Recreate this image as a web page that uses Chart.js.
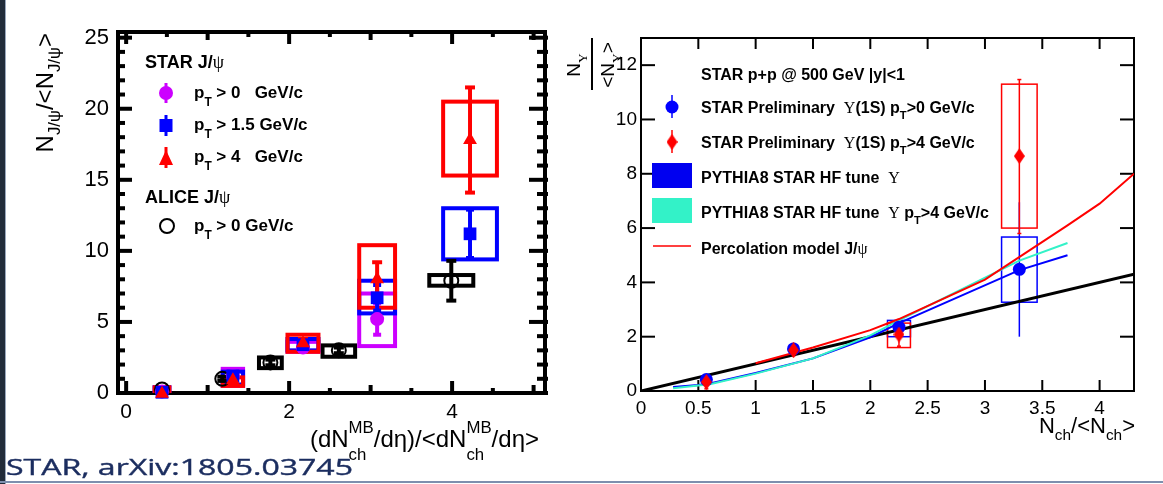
<!DOCTYPE html>
<html>
<head>
<meta charset="utf-8">
<script src="https://cdn.jsdelivr.net/npm/chart.js@4.4.1/dist/chart.umd.min.js"></script>
<style>
  body { margin: 0; background: #fff; }
  #page { position: relative; width: 1163px; height: 484px; overflow: hidden; background: #fff; }
  #cvLeft { position: absolute; left: 0; top: 0; }
  #cvRight { position: absolute; left: 560px; top: 0; }
  #edge { position: absolute; left: 0; top: 0; width: 5px; height: 484px; background: #222c3a; }
  #edge2 { position: absolute; left: 5px; top: 0; width: 1px; height: 484px; background: #9aa8bd; }
  #foot { position: absolute; left: 0; top: 481px; width: 1163px; height: 2px; background: #7d8fae; }
  #cite { position: absolute; left: 6px; top: 451px; font-family: "Open Sans"; font-size: 22px;
          color: #1b2d5f; white-space: nowrap; transform-origin: 0 0; -webkit-text-stroke: 0.4px #1b2d5f; }
</style>
</head>
<body>
<div id="page">
  <canvas id="cvLeft" width="560" height="484"></canvas>
  <canvas id="cvRight" width="603" height="484"></canvas>
  <div id="edge"></div><div id="edge2"></div><div id="foot"></div>
  <div id="cite">STAR, arXiv:1805.03745</div>
</div>
<script>
// ---------- left panel: J/psi yield vs multiplicity ----------
const leftXLabels = [0, 2, 4];
const leftYLabels = [0, 5, 10, 15, 20, 25];

const starX         = [0.44, 1.31, 2.17, 3.08, 4.22];
const starBoxW      = [0.09, 0.125, 0.19, 0.22, 0.33];
const starPt0       = [0.10, 1.20, 3.20, 5.20, null];
const starPt0Err    = [0.10, 0.25, 0.25, 1.10, null];
const starPt0SysLo  = [-0.3, 0.5, 2.9, 3.3, null];
const starPt0SysHi  = [0.4, 1.7, 3.6, 7.0, null];
const starPt15      = [0.05, 1.20, 3.40, 6.70, 11.2];
const starPt15Err   = [0.10, 0.25, 0.25, 0.90, 1.70];
const starPt15SysLo = [-0.3, 0.6, 3.0, 5.6, 9.4];
const starPt15SysHi = [0.4, 1.5, 3.8, 7.9, 13.0];
const starPt4       = [-0.05, 0.90, 3.50, 8.00, 17.8];
const starPt4Err    = [0.10, 0.30, 0.30, 1.20, 3.70];
const starPt4SysLo  = [-0.3, 0.5, 2.9, 6.0, 15.3];
const starPt4SysHi  = [0.4, 1.1, 4.1, 10.4, 20.5];

const aliceX      = [0.44, 1.18, 1.77, 2.61, 3.99];
const aliceBoxW   = [0, 0, 0.14, 0.2, 0.27];
const aliceY      = [0.25, 1.0, 2.15, 3.0, 7.9];
const aliceErr    = [0.1, 0.15, 0.2, 0.2, 1.4];
const aliceSysLo  = [null, null, 1.75, 2.55, 7.55];
const aliceSysHi  = [null, null, 2.5, 3.35, 8.3];

// ---------- right panel: Upsilon yield vs multiplicity ----------
const rightXLabels = [0, 0.5, 1, 1.5, 2, 2.5, 3, 3.5, 4];
const rightYLabels = [0, 2, 4, 6, 8, 10, 12];

const upsX        = [0.57, 1.33, 2.25, 3.30];
const upsBoxW     = [0, 0, 0.1, 0.155];
const upsPt0      = [0.42, 1.55, 2.35, 4.48];
const upsPt0Lo    = [0.30, 1.42, 2.10, 2.00];
const upsPt0Hi    = [0.55, 1.70, 2.60, 6.95];
const upsPt0SysLo = [null, null, 2.0, 3.27];
const upsPt0SysHi = [null, null, 2.6, 5.67];
const upsPt4      = [0.33, 1.50, 2.08, 8.65];
const upsPt4Lo    = [0.08, 1.30, 1.65, 5.80];
const upsPt4Hi    = [0.60, 1.75, 2.60, 11.47];
const upsPt4SysLo = [null, null, 1.6, 6.0];
const upsPt4SysHi = [null, null, 2.5, 11.3];

const diagX    = [0, 4.3];
const diagY    = [0, 4.3];
const pythiaX  = [0.28, 0.5, 0.6, 1.0, 1.5, 2.0, 2.25, 3.3, 3.72];
const pythiaY  = [0.15, 0.22, 0.28, 0.66, 1.2, 1.98, 2.5, 4.45, 5.0];
const pyth4X   = [0.28, 0.6, 1.0, 1.5, 2.0, 2.25, 3.3, 3.72];
const pyth4Y   = [0.10, 0.25, 0.64, 1.2, 2.05, 2.6, 4.8, 5.45];
const percX    = [1.0, 1.5, 2.0, 2.25, 3.0, 3.72, 4.0, 4.3];
const percY    = [1.02, 1.6, 2.24, 2.65, 4.1, 6.1, 6.9, 8.0];

const PURPLE = '#cc00ff', BLUE = '#0000ff', RED = '#ff0000', CYAN = '#33f2c8';

// ---------- helpers ----------
function pts(xs, ys) {
  return xs.map((x, i) => ({ x: x, y: ys[i] })).filter(p => p.y != null);
}
function boxes(xs, w, lo, hi, color, lw) {
  return xs.map((x, i) => lo[i] == null ? null : { x: x, w: w[i], lo: lo[i], hi: hi[i], color: color, lw: lw }).filter(Boolean);
}
function bars(xs, lo, hi, color, lw, cap) {
  return xs.map((x, i) => lo[i] == null ? null : { x: x, lo: lo[i], hi: hi[i], color: color, lw: lw, cap: cap }).filter(Boolean);
}
function sym(ys, err) { return ys.map((y, i) => y == null ? null : y - err[i]); }
function symHi(ys, err) { return ys.map((y, i) => y == null ? null : y + err[i]); }

// rich text: parts {t, sub, sup, serif, bold, stack}
function rich(ctx, parts, x, y, size, bold, draw) {
  let cx = x, lastStart = x;
  parts.forEach(p => {
    const small = p.sub || p.sup;
    const s = small ? size * 0.7 : size;
    const b = p.bold !== undefined ? p.bold : bold;
    ctx.font = (b ? 'bold ' : '') + s + 'px ' + (p.serif ? '"Liberation Serif"' : '"Liberation Sans"');
    const w = ctx.measureText(p.t).width;
    const px = p.stack ? lastStart : cx;
    const dy = p.sub ? size * (p.dy || 0.3) : p.sup ? -size * (p.dy || 0.6) : 0;
    if (draw) ctx.fillText(p.t, px, y + dy);
    if (p.stack) cx = Math.max(cx, px + w);
    else { lastStart = cx; cx += w; }
  });
  return cx - x;
}
function richRight(ctx, parts, xEnd, y, size, bold) {
  const w = rich(ctx, parts, 0, 0, size, bold, false);
  rich(ctx, parts, xEnd - w, y, size, bold, true);
}
function seg(ctx, x0, y0, x1, y1) { ctx.beginPath(); ctx.moveTo(x0, y0); ctx.lineTo(x1, y1); ctx.stroke(); }

const hepDecor = {
  id: 'hepDecor',
  beforeDatasetsDraw(chart, args, o) {
    const ctx = chart.ctx, a = chart.chartArea, xs = chart.scales.x, ys = chart.scales.y;
    ctx.save();
    ctx.strokeStyle = '#000';
    ctx.lineCap = 'butt';
    o.xTicks.forEach(t => {
      const px = xs.getPixelForValue(t[0]);
      ctx.lineWidth = o.tickW;
      seg(ctx, px, a.bottom, px, a.bottom - t[1]);
      seg(ctx, px, a.top, px, a.top + t[1]);
    });
    o.yTicks.forEach(t => {
      const py = ys.getPixelForValue(t[0]);
      ctx.lineWidth = o.tickW;
      seg(ctx, a.left, py, a.left + t[1], py);
      seg(ctx, a.right + o.rOut, py, a.right - t[2], py);
    });
    ctx.lineWidth = o.frameW;
    ctx.strokeRect(a.left, a.top, a.right - a.left, a.bottom - a.top);

    ctx.beginPath();
    ctx.rect(a.left, a.top, a.right - a.left, a.bottom - a.top);
    ctx.clip();
    o.boxes.forEach(b => {
      ctx.strokeStyle = b.color; ctx.lineWidth = b.lw;
      const x0 = xs.getPixelForValue(b.x - b.w), x1 = xs.getPixelForValue(b.x + b.w);
      const y0 = ys.getPixelForValue(b.hi), y1 = ys.getPixelForValue(b.lo);
      ctx.strokeRect(x0, y0, x1 - x0, y1 - y0);
    });
    o.bars.forEach(b => {
      ctx.strokeStyle = b.color; ctx.lineWidth = b.lw;
      const px = xs.getPixelForValue(b.x);
      const y0 = ys.getPixelForValue(b.hi), y1 = ys.getPixelForValue(b.lo);
      seg(ctx, px, y0, px, y1);
      if (b.cap) { seg(ctx, px - b.cap, y0, px + b.cap, y0); seg(ctx, px - b.cap, y1, px + b.cap, y1); }
    });
    ctx.restore();
  },
  afterDraw(chart, args, o) {
    if (o.text) { const ctx = chart.ctx; ctx.save(); ctx.fillStyle = '#000'; o.text(ctx, chart); ctx.restore(); }
  }
};
Chart.register(hepDecor);

function tickList(from, to, step, len, len2) {
  const out = [];
  for (let v = from; v <= to + 1e-9; v += step) out.push([Math.round(v * 100) / 100, len, len2]);
  return out;
}

// ---------- left chart ----------
const leftBoxes = []
  .concat(boxes(aliceX, aliceBoxW, aliceSysLo, aliceSysHi, '#000', 4))
  .concat(boxes(starX, starBoxW, starPt0SysLo, starPt0SysHi, PURPLE, 4))
  .concat(boxes(starX, starBoxW, starPt15SysLo, starPt15SysHi, BLUE, 4))
  .concat(boxes(starX, starBoxW, starPt4SysLo, starPt4SysHi, RED, 4));
const leftBars = []
  .concat(bars(aliceX, sym(aliceY, aliceErr), symHi(aliceY, aliceErr), '#000', 4, 5))
  .concat(bars(starX, sym(starPt0, starPt0Err), symHi(starPt0, starPt0Err), PURPLE, 4, 4))
  .concat(bars(starX, sym(starPt15, starPt15Err), symHi(starPt15, starPt15Err), BLUE, 4, 4))
  .concat(bars(starX, sym(starPt4, starPt4Err), symHi(starPt4, starPt4Err), RED, 4, 5));

const leftXTicks = tickList(0, 5, 0.5, 5).map(t => [t[0], t[0] % 2 === 0 ? 12 : (t[0] % 1 === 0 ? 8 : 5)]);
const leftYTicks = tickList(0, 25, 1, 7, 8).map(t => t[0] % 5 === 0 ? [t[0], 14, 16] : t);

function leftText(ctx) {
  // axis titles
  richRight(ctx, [{ t: '(dN' }, { t: 'MB', sup: true, dy: 0.6 }, { t: 'ch', sub: true, stack: true, dy: 0.55 },
    { t: '/d\u03b7)/<dN' }, { t: 'MB', sup: true, dy: 0.6 }, { t: 'ch', sub: true, stack: true, dy: 0.55 },
    { t: '/d\u03b7>' }], 539, 447, 24, false);
  ctx.save();
  const yParts = [{ t: 'N' }, { t: 'J/\u03c8', sub: true }, { t: '/<N' }, { t: 'J/\u03c8', sub: true }, { t: '>' }];
  const w = rich(ctx, yParts, 0, 0, 24, false, false);
  ctx.translate(53, 33 + w);
  ctx.rotate(-Math.PI / 2);
  rich(ctx, yParts, 0, 0, 24, false, true);
  ctx.restore();

  // legend
  rich(ctx, [{ t: 'STAR J/' }, { t: '\u03c8', serif: true, bold: false }], 145, 68, 18, true, true);
  rich(ctx, [{ t: 'ALICE J/' }, { t: '\u03c8', serif: true, bold: false }], 145, 203, 18, true, true);
  const rows = [
    [93, ' > 0   GeV/c'], [125, ' > 1.5 GeV/c'], [157, ' > 4   GeV/c'], [226, ' > 0 GeV/c']
  ];
  rows.forEach(r => rich(ctx, [{ t: 'p' }, { t: 'T', sub: true, dy: 0.45 }, { t: r[1] }], 194, r[0] + 5, 17, true, true));

  ctx.lineWidth = 3;
  ctx.strokeStyle = PURPLE; seg(ctx, 166, 83, 166, 103);
  ctx.fillStyle = PURPLE; ctx.beginPath(); ctx.arc(166, 93, 7, 0, Math.PI * 2); ctx.fill();
  ctx.strokeStyle = BLUE; seg(ctx, 166, 115, 166, 136);
  ctx.fillStyle = BLUE; ctx.fillRect(159.5, 119, 13, 13);
  ctx.strokeStyle = RED; seg(ctx, 166, 147, 166, 168);
  ctx.fillStyle = RED; ctx.beginPath(); ctx.moveTo(166, 150); ctx.lineTo(173, 165); ctx.lineTo(159, 165); ctx.closePath(); ctx.fill();
  ctx.lineWidth = 2; ctx.strokeStyle = '#000';
  ctx.beginPath(); ctx.arc(167, 226, 7, 0, Math.PI * 2); ctx.stroke();
}

// Chart.js paints dataset 0 last, so the topmost marker comes first
new Chart(document.getElementById('cvLeft'), {
  type: 'scatter',
  data: {
    datasets: [
      { data: pts(starX, starPt4), pointStyle: 'triangle', pointRadius: 8, borderWidth: 0, clip: false,
        backgroundColor: RED, borderColor: RED },
      { data: pts(starX, starPt15), pointStyle: 'rect', pointRadius: 9, borderWidth: 0, clip: false,
        backgroundColor: BLUE, borderColor: BLUE },
      { data: pts(starX, starPt0), pointStyle: 'circle', pointRadius: 7, borderWidth: 0, clip: false,
        backgroundColor: PURPLE, borderColor: PURPLE },
      { data: pts(aliceX, aliceY), pointStyle: 'circle', pointRadius: 7, borderWidth: 2, clip: false,
        borderColor: '#000', backgroundColor: 'rgba(0,0,0,0)' }
    ]
  },
  options: {
    responsive: false,
    animation: false,
    events: [],
    layout: { padding: { top: 32, right: 15, bottom: 51, left: 0 } },
    plugins: {
      legend: { display: false },
      tooltip: { enabled: false },
      hepDecor: { xTicks: leftXTicks, yTicks: leftYTicks, tickW: 4, frameW: 4, rOut: 3,
                  boxes: leftBoxes, bars: leftBars, text: leftText }
    },
    scales: {
      x: {
        type: 'linear', min: -0.1, max: 5.14,
        afterBuildTicks: s => { s.ticks = leftXLabels.map(v => ({ value: v })); },
        afterFit: s => { s.height = 40; },
        grid: { display: false }, border: { display: false },
        ticks: { color: '#000', font: { family: 'Liberation Sans', size: 21 }, padding: -1,
                 maxRotation: 0, autoSkip: false, callback: v => String(v) }
      },
      y: {
        type: 'linear', min: 0, max: 25.4,
        afterBuildTicks: s => { s.ticks = leftYLabels.map(v => ({ value: v })); },
        afterFit: s => { s.width = 118; },
        grid: { display: false }, border: { display: false },
        ticks: { color: '#000', font: { family: 'Liberation Sans', size: 22 }, padding: 1,
                 autoSkip: false, callback: v => String(v) }
      }
    }
  }
});

// ---------- right chart ----------
function diamondImg(w, h, color) {
  const c = document.createElement('canvas');
  c.width = w; c.height = h;
  const g = c.getContext('2d');
  g.fillStyle = color;
  g.beginPath(); g.moveTo(w / 2, 0); g.lineTo(w, h / 2); g.lineTo(w / 2, h); g.lineTo(0, h / 2); g.closePath(); g.fill();
  return c;
}
const redDiamond = diamondImg(11, 16, RED);

const rightBoxes = []
  .concat(boxes(upsX, upsBoxW, upsPt0SysLo, upsPt0SysHi, BLUE, 1.5))
  .concat(boxes(upsX, upsBoxW, upsPt4SysLo, upsPt4SysHi, RED, 1.5));
const rightBars = []
  .concat(bars(upsX, upsPt0Lo, upsPt0Hi, BLUE, 1.5, 0))
  .concat(bars(upsX, upsPt4Lo, upsPt4Hi, RED, 1.5, 2));

const rightXTicks = tickList(0, 4, 0.5, 11);
const rightYTicks = tickList(0, 12, 2, 14, 14);

function rightText(ctx) {
  const Y = '\u03a5';
  // x title
  richRight(ctx, [{ t: 'N' }, { t: 'ch', sub: true, dy: 0.3 }, { t: '/<N' }, { t: 'ch', sub: true, dy: 0.3 }, { t: '>' }],
    575, 433, 22, false);
  // y title: fraction, rotated
  const num = [{ t: 'N' }, { t: Y, sub: true, serif: true, dy: 0.35 }];
  const den = [{ t: '<N' }, { t: Y, sub: true, serif: true, dy: 0.35 }, { t: '>' }];
  [[num, 20], [den, 54]].forEach(d => {
    const w = rich(ctx, d[0], 0, 0, 19, false, false);
    ctx.save();
    ctx.translate(d[1], 65 + w / 2);
    ctx.rotate(-Math.PI / 2);
    rich(ctx, d[0], 0, 0, 19, false, true);
    ctx.restore();
  });
  ctx.strokeStyle = '#000'; ctx.lineWidth = 2; seg(ctx, 32, 38, 32, 90);

  // legend
  const lx = 141, fs = 16;
  rich(ctx, [{ t: 'STAR p+p @ 500 GeV |y|<1' }], lx, 80, fs, true, true);
  rich(ctx, [{ t: 'STAR Preliminary  ' }, { t: Y, serif: true, bold: false }, { t: '(1S) p' },
    { t: 'T', sub: true, dy: 0.4 }, { t: '>0 GeV/c' }], lx, 113, fs, true, true);
  rich(ctx, [{ t: 'STAR Preliminary  ' }, { t: Y, serif: true, bold: false }, { t: '(1S) p' },
    { t: 'T', sub: true, dy: 0.4 }, { t: '>4 GeV/c' }], lx, 148, fs, true, true);
  rich(ctx, [{ t: 'PYTHIA8 STAR HF tune  ' }, { t: Y, serif: true, bold: false }], lx, 183, fs, true, true);
  rich(ctx, [{ t: 'PYTHIA8 STAR HF tune  ' }, { t: Y, serif: true, bold: false }, { t: ' p' },
    { t: 'T', sub: true, dy: 0.4 }, { t: '>4 GeV/c' }], lx, 218, fs, true, true);
  rich(ctx, [{ t: 'Percolation model J/' }, { t: '\u03c8', serif: true, bold: false }], lx, 254, fs, true, true);

  ctx.lineWidth = 1.5;
  ctx.strokeStyle = BLUE; seg(ctx, 112, 95, 112, 118);
  ctx.fillStyle = BLUE; ctx.beginPath(); ctx.arc(112, 107, 6.5, 0, Math.PI * 2); ctx.fill();
  ctx.strokeStyle = RED; seg(ctx, 112, 130, 112, 153);
  ctx.drawImage(redDiamond, 112 - 5.5, 142 - 8);
  ctx.fillStyle = '#0000f0'; ctx.fillRect(92, 163, 40, 25);
  ctx.fillStyle = CYAN; ctx.fillRect(92, 198, 40, 25);
  ctx.strokeStyle = RED; seg(ctx, 93, 246, 131, 246);
}

new Chart(document.getElementById('cvRight'), {
  type: 'scatter',
  data: {
    datasets: [
      { data: pts(upsX, upsPt4), pointStyle: redDiamond, pointRadius: 8, borderWidth: 0,
        backgroundColor: RED, borderColor: RED },
      { data: pts(upsX, upsPt0), pointStyle: 'circle', pointRadius: 6.5, borderWidth: 0,
        backgroundColor: BLUE, borderColor: BLUE },
      { data: pts(percX, percY), showLine: true, pointRadius: 0, borderColor: RED, borderWidth: 2 },
      { data: pts(pyth4X, pyth4Y), showLine: true, pointRadius: 0, borderColor: CYAN, borderWidth: 2 },
      { data: pts(pythiaX, pythiaY), showLine: true, pointRadius: 0, borderColor: BLUE, borderWidth: 2 },
      { data: pts(diagX, diagY), showLine: true, pointRadius: 0, borderColor: '#000', borderWidth: 3 }
    ]
  },
  options: {
    responsive: false,
    animation: false,
    events: [],
    layout: { padding: { top: 38, right: 29, bottom: 53, left: 0 } },
    plugins: {
      legend: { display: false },
      tooltip: { enabled: false },
      hepDecor: { xTicks: rightXTicks, yTicks: rightYTicks, tickW: 2, frameW: 2, rOut: 0,
                  boxes: rightBoxes, bars: rightBars, text: rightText }
    },
    scales: {
      x: {
        type: 'linear', min: 0, max: 4.3,
        afterBuildTicks: s => { s.ticks = rightXLabels.map(v => ({ value: v })); },
        afterFit: s => { s.height = 40; },
        grid: { display: false }, border: { display: false },
        ticks: { color: '#000', font: { family: 'Liberation Sans', size: 19 }, padding: -2,
                 maxRotation: 0, autoSkip: false, callback: v => String(v) }
      },
      y: {
        type: 'linear', min: 0, max: 13,
        afterBuildTicks: s => { s.ticks = rightYLabels.map(v => ({ value: v })); },
        afterFit: s => { s.width = 81; },
        grid: { display: false }, border: { display: false },
        ticks: { color: '#000', font: { family: 'Liberation Sans', size: 19 }, padding: -4,
                 autoSkip: false, callback: v => String(v) }
      }
    }
  }
});

// fit citation width to the slide footer
const cite = document.getElementById('cite');
cite.style.transform = 'scaleX(' + (347 / cite.getBoundingClientRect().width) + ')';
</script>
</body>
</html>
